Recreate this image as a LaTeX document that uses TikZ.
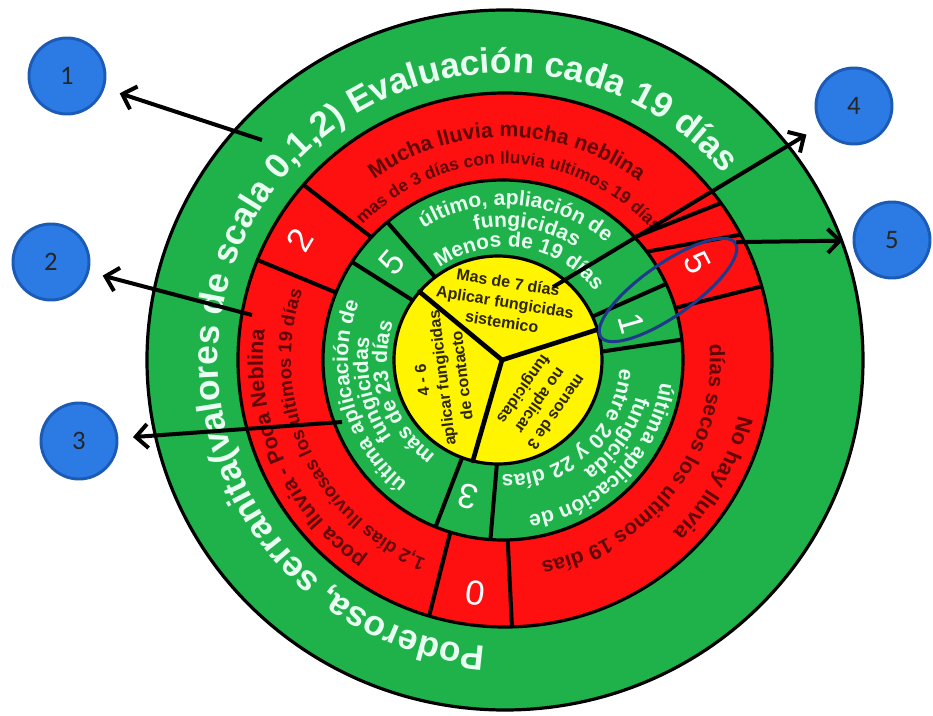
\documentclass[tikz,border=0pt]{standalone}
\usepackage{fontspec}
\setmainfont{Liberation Sans}
\newfontfamily\calib{Carlito}
\usetikzlibrary{decorations.text,arrows.meta,shapes.geometric}
\definecolor{rgreen}{HTML}{1FB24A}
\definecolor{rred}{HTML}{FF1010}
\definecolor{ryellow}{HTML}{FFF500}
\definecolor{mint}{HTML}{E8FFF2}
\definecolor{dred}{HTML}{600606}
\definecolor{ytext}{HTML}{2E2600}
\definecolor{bfill}{HTML}{2C7BE5}
\definecolor{bedge}{HTML}{1C5BB5}
\definecolor{ellc}{HTML}{1F3A8A}
\newcommand\ringtext[6]{%
  \path[decorate,decoration={text along path,text align=center,text color=#5,
    text={|\bfseries\fontsize{#4}{#4}\selectfont|#6}}]
    (#2+#3:#1) arc[start angle=#2+#3,end angle=#2-#3,radius=#1];}
\begin{document}
\begin{tikzpicture}[x=0.75pt,y=0.75pt,
  numtxt/.style={text=white,font=\fontsize{26}{26}\selectfont,inner sep=0},
  ytxt/.style={text=ytext,font=\bfseries\fontsize{12}{15}\selectfont,align=center,inner sep=0},
  divline/.style={line width=3pt,black},
  hubline/.style={line width=3.5pt,black,line cap=round},
  ringedge/.style={line width=2.4pt,black},
  bubble/.style={circle,fill=bfill,draw=bedge,line width=2.2pt,minimum size=57pt,inner sep=0,text=black!85,font=\calib\fontsize{20}{20}\selectfont},
  arr/.style={line width=3pt,-{Straight Barb[length=9pt,width=18pt]}}]
\useasboundingbox (-505,-355) rectangle (428,360);
\fill[white] (-505,-355) rectangle (428,360);
% fills
\fill[rgreen] (0,0) ellipse[x radius=358,y radius=350];
\fill[rred] (0,0) circle[radius=267];
\fill[rgreen] (-2,0) circle[radius=180];
% outer ring text
\ringtext{287}{153.25}{125}{26.5pt}{mint}{Poderosa, serranita(valores de scala 0,1,2) Evaluación cada 19 días}
% red ring texts
\ringtext{223}{89.5}{80}{16pt}{dred}{Mucha lluvia mucha neblina}
\ringtext{196}{88.5}{80}{13pt}{dred}{mas de 3 días con lluvia ultimos 19 días}
\ringtext{242}{204}{80}{16pt}{dred}{poca lluvia - Poca Neblina}
\ringtext{214}{204.8}{80}{14pt}{dred}{1,2 días lluviosas los ultimos 19 días}
\ringtext{240}{-29.5}{80}{16.5pt}{dred}{No hay lluvia}
\ringtext{205}{-37.8}{80}{15.75pt}{dred}{días secos los ultimos 19 días}
% green ring texts
\ringtext{155}{85.5}{80}{15.75pt}{mint}{último, apliación de}
\ringtext{133}{80.5}{80}{15.75pt}{mint}{fungicidas}
\ringtext{113}{81.3}{80}{15.75pt}{mint}{Menos de 19 días}
\ringtext{157}{195}{80}{15.75pt}{mint}{última aplicación de}
\ringtext{137}{192.5}{80}{15.75pt}{mint}{fungicidas}
\ringtext{118}{197.7}{80}{15.75pt}{mint}{más de 23 días}
\ringtext{157}{-44.8}{80}{15.75pt}{mint}{última aplicación de}
\ringtext{136}{-35}{80}{15.75pt}{mint}{fungicida}
\ringtext{115}{-48}{80}{15.75pt}{mint}{entre 20 y 22 días}
% numbers
\node[numtxt,rotate=59.6] (n2) at (-205,120) {2};
\node[numtxt,rotate=172.7] (n0) at (-30,-233) {0};
\node[numtxt,rotate=-63] (n5r) at (192,97) {5};
\node[numtxt,rotate=49] (n5g) at (-113,97) {5};
\node[numtxt,rotate=165] (n3) at (-37,-137) {3};
\node[numtxt,rotate=-74] (n1) at (127,37) {1};
% red ring dividers
\draw[divline] ([shift={(-2,0)}]137:180) -- (139:267);
\draw[divline] ([shift={(-2,0)}]158:180) -- (158:267);
\draw[divline] ([shift={(-2,0)}]253:180) -- (253.5:267);
\draw[divline] ([shift={(-2,0)}]271.5:180) -- (271.5:267);
\draw[divline] ([shift={(-2,0)}]16.8:180) -- (16:267);
\draw[divline] ([shift={(-2,0)}]43:180) -- (36:267);
\draw[divline] ([shift={(-2,0)}]37:180) -- (28:267);
% green ring dividers
\draw[divline] (130:90) -- ([shift={(-2,0)}]130:180);
\draw[divline] (147:90) -- ([shift={(-2,0)}]147:180);
\draw[divline] (245.8:90) -- ([shift={(-2,0)}]248:180);
\draw[divline] (265.6:90) -- ([shift={(-2,0)}]266:180);
\draw[divline] (4.7:90) -- ([shift={(-2,0)}]6.5:180);
\draw[divline] (26.6:90) -- ([shift={(-2,0)}]25:180);
% yellow centre
\fill[ryellow] (-7,0) circle[radius=104];
\node[ytxt,rotate=-9] (ya) at (0,58) {Mas de 7 días\\Aplicar fungicidas\\sistemico};
\node[ytxt,rotate=97] (yb) at (-63,-18) {4 - 6\\aplicar fungicidas\\de contacto};
\node[ytxt,rotate=235] (yc) at (34,-40) {menos de 3\\no aplicar\\fungicidas};
\coordinate (hub) at (-3,0);
\draw[hubline] (hub) -- ([shift={(-7,0)}]139:104);
\draw[hubline] (hub) -- ([shift={(-7,0)}]17:104);
\draw[hubline] (hub) -- ([shift={(-7,0)}]256:104);
% ring borders
\draw[ringedge] (0,0) ellipse[x radius=358,y radius=350];
\draw[ringedge] (0,0) circle[radius=267];
\draw[ringedge] (-2,0) circle[radius=180];
\draw[ringedge] (-7,0) circle[radius=104];
% highlight ellipse
\node[ellipse,draw=ellc,line width=2.3pt,minimum width=123pt,minimum height=39pt,inner sep=0,rotate=35] (ell) at (163,70) {};
% callouts
\node[bubble] (c1) at (-438,284) {1};
\node[bubble] (c2) at (-454,98) {2};
\node[bubble] (c3) at (-426,-81) {3};
\node[bubble] (c4) at (349,254) {4};
\node[bubble] (c5) at (387,120) {5};
\coordinate (t1) at (-243,220);
\coordinate (t2) at (-253,45);
\coordinate (t3) at (-163,-62);
\coordinate (t4) at (48,73);
\draw[arr,shorten >=12pt] (t1) -- (c1);
\draw[arr,shorten >=10.5pt] (t2) -- (c2);
\draw[arr,shorten >=11pt] (t3) -- (c3);
\draw[arr,shorten >=12pt] (t4) -- (c4);
\draw[arr,shorten >=7.5pt] (ell.east) -- (c5);
\end{tikzpicture}
\end{document}
